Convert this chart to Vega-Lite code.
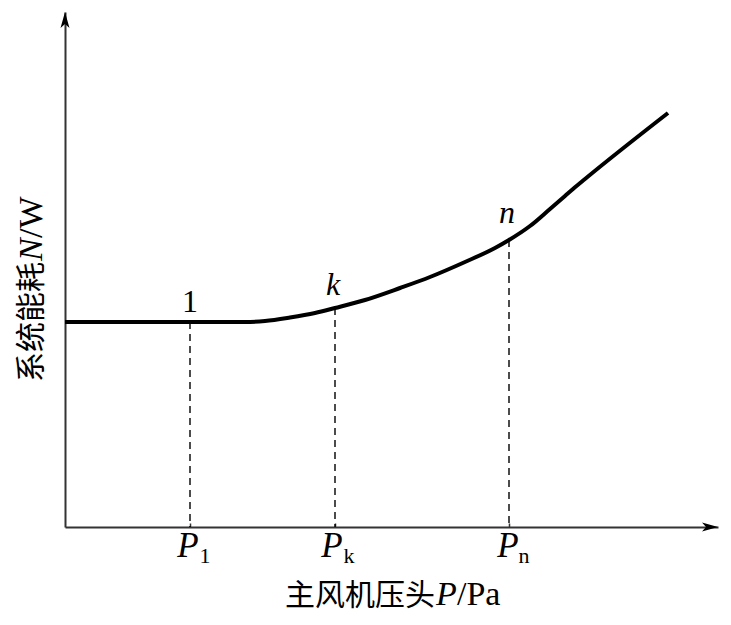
{
  "$schema": "https://vega.github.io/schema/vega-lite/v6.json",
  "width": 653,
  "height": 515,
  "autosize": {"type": "none"},
  "padding": {"left": 65, "top": 12, "right": 13, "bottom": 98},
  "background": "white",
  "config": {"view": {"stroke": null}},
  "datasets": {
    "curve": [
      {"x": 0, "y": 205}, {"x": 180, "y": 205}, {"x": 200, "y": 206}, {"x": 225, "y": 209.5},
      {"x": 250, "y": 214}, {"x": 270, "y": 219}, {"x": 300, "y": 227}, {"x": 335, "y": 239},
      {"x": 365, "y": 250}, {"x": 400, "y": 265}, {"x": 430, "y": 279}, {"x": 444, "y": 287},
      {"x": 465, "y": 301}, {"x": 485, "y": 318}, {"x": 500, "y": 331}, {"x": 508, "y": 338},
      {"x": 520, "y": 348}, {"x": 603, "y": 414}
    ],
    "dashes": [{"x": 125, "y": 205}, {"x": 270, "y": 219}, {"x": 444, "y": 287}],
    "pointItalic": [{"x": 268, "y": 232, "t": "k"}, {"x": 442, "y": 304, "t": "n"}],
    "pointPlain": [{"x": 125, "y": 215, "t": "1"}],
    "pLabels": [{"x": 123, "y": -30, "t": "P"}, {"x": 267, "y": -30, "t": "P"}, {"x": 443, "y": -30, "t": "P"}],
    "subLabels": [{"x": 140, "y": -36, "t": "1"}, {"x": 284, "y": -36, "t": "k"}, {"x": 459, "y": -36, "t": "n"}],
    "yArrow": [{"x": 0, "y": 515}],
    "xArrow": [{"x": 653, "y": 0}],
    "xTitleCjk": [{"x": 220, "y": -78, "t": "主风机压头"}],
    "xTitleP": [{"x": 371, "y": -78, "t": "P"}],
    "xTitleRest": [{"x": 392, "y": -78, "t": "/Pa"}],
    "yTitleCjk": [{"x": -33, "y": 145, "t": "系统能耗"}],
    "yTitleN": [{"x": -33, "y": 266, "t": "N"}],
    "yTitleRest": [{"x": -33, "y": 289, "t": "/W"}]
  },
  "layer": [
    {
      "data": {"name": "curve"},
      "mark": {"type": "line", "color": "black", "strokeWidth": 4, "interpolate": "monotone"},
      "encoding": {
        "x": {"field": "x", "type": "quantitative", "scale": {"domain": [0, 653], "nice": false},
              "axis": {"values": [125, 270, 444], "labels": false, "title": null, "grid": false,
                       "domainColor": "#333", "domainWidth": 2, "tickColor": "#333", "tickWidth": 1.5, "tickSize": -4}},
        "y": {"field": "y", "type": "quantitative", "scale": {"domain": [0, 515], "nice": false},
              "axis": {"values": [205], "labels": false, "title": null, "grid": false,
                       "domainColor": "#333", "domainWidth": 2, "tickColor": "#333", "tickWidth": 1.5, "tickSize": -4}}
      }
    },
    {
      "data": {"name": "dashes"},
      "mark": {"type": "rule", "color": "black", "strokeWidth": 1.4, "strokeDash": [7, 5]},
      "encoding": {
        "x": {"field": "x", "type": "quantitative"},
        "y": {"field": "y", "type": "quantitative"},
        "y2": {"datum": 0}
      }
    },
    {
      "data": {"name": "pointItalic"},
      "mark": {"type": "text", "font": "Liberation Serif", "fontStyle": "italic", "fontSize": 32, "align": "center", "baseline": "alphabetic", "color": "black"},
      "encoding": {"x": {"field": "x", "type": "quantitative"}, "y": {"field": "y", "type": "quantitative"}, "text": {"field": "t"}}
    },
    {
      "data": {"name": "pointPlain"},
      "mark": {"type": "text", "font": "Liberation Serif", "fontSize": 32, "align": "center", "baseline": "alphabetic", "color": "black"},
      "encoding": {"x": {"field": "x", "type": "quantitative"}, "y": {"field": "y", "type": "quantitative"}, "text": {"field": "t"}}
    },
    {
      "data": {"name": "pLabels"},
      "mark": {"type": "text", "font": "Liberation Serif", "fontStyle": "italic", "fontSize": 35, "align": "center", "baseline": "alphabetic", "color": "black"},
      "encoding": {"x": {"field": "x", "type": "quantitative"}, "y": {"field": "y", "type": "quantitative"}, "text": {"field": "t"}}
    },
    {
      "data": {"name": "subLabels"},
      "mark": {"type": "text", "font": "Liberation Serif", "fontSize": 22, "align": "center", "baseline": "alphabetic", "color": "black"},
      "encoding": {"x": {"field": "x", "type": "quantitative"}, "y": {"field": "y", "type": "quantitative"}, "text": {"field": "t"}}
    },
    {
      "data": {"name": "yArrow"},
      "mark": {"type": "point", "filled": true, "color": "black", "opacity": 1, "size": 1024, "shape": "M0,0L-0.28,1L0,0.75L0.28,1Z"},
      "encoding": {"x": {"field": "x", "type": "quantitative"}, "y": {"field": "y", "type": "quantitative"}}
    },
    {
      "data": {"name": "xArrow"},
      "mark": {"type": "point", "filled": true, "color": "black", "opacity": 1, "size": 1024, "shape": "M0,0L-1,-0.28L-0.75,0L-1,0.28Z"},
      "encoding": {"x": {"field": "x", "type": "quantitative"}, "y": {"field": "y", "type": "quantitative"}}
    },
    {
      "data": {"name": "xTitleCjk"},
      "mark": {"type": "text", "font": "Noto Sans CJK SC", "fontSize": 30, "align": "left", "baseline": "alphabetic", "color": "black"},
      "encoding": {"x": {"field": "x", "type": "quantitative"}, "y": {"field": "y", "type": "quantitative"}, "text": {"field": "t"}}
    },
    {
      "data": {"name": "xTitleP"},
      "mark": {"type": "text", "font": "Liberation Serif", "fontStyle": "italic", "fontSize": 34, "align": "left", "baseline": "alphabetic", "color": "black"},
      "encoding": {"x": {"field": "x", "type": "quantitative"}, "y": {"field": "y", "type": "quantitative"}, "text": {"field": "t"}}
    },
    {
      "data": {"name": "xTitleRest"},
      "mark": {"type": "text", "font": "Liberation Serif", "fontSize": 34, "align": "left", "baseline": "alphabetic", "color": "black"},
      "encoding": {"x": {"field": "x", "type": "quantitative"}, "y": {"field": "y", "type": "quantitative"}, "text": {"field": "t"}}
    },
    {
      "data": {"name": "yTitleCjk"},
      "mark": {"type": "text", "font": "Noto Sans CJK SC", "fontSize": 30, "angle": 270, "align": "left", "baseline": "middle", "color": "black"},
      "encoding": {"x": {"field": "x", "type": "quantitative"}, "y": {"field": "y", "type": "quantitative"}, "text": {"field": "t"}}
    },
    {
      "data": {"name": "yTitleN"},
      "mark": {"type": "text", "font": "Liberation Serif", "fontStyle": "italic", "fontSize": 34, "angle": 270, "align": "left", "baseline": "middle", "color": "black"},
      "encoding": {"x": {"field": "x", "type": "quantitative"}, "y": {"field": "y", "type": "quantitative"}, "text": {"field": "t"}}
    },
    {
      "data": {"name": "yTitleRest"},
      "mark": {"type": "text", "font": "Liberation Serif", "fontSize": 34, "angle": 270, "align": "left", "baseline": "middle", "color": "black"},
      "encoding": {"x": {"field": "x", "type": "quantitative"}, "y": {"field": "y", "type": "quantitative"}, "text": {"field": "t"}}
    }
  ]
}
